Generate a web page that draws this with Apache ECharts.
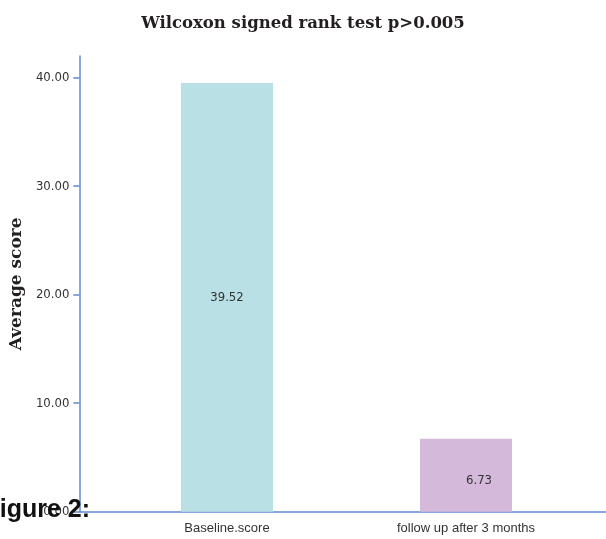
<!DOCTYPE html>
<html>
<head>
<meta charset="utf-8">
<script src="https://cdn.jsdelivr.net/npm/echarts@6/dist/echarts.min.js"></script>
<style>
  html, body { margin: 0; padding: 0; background: #fff; }
  #chart { width: 606px; height: 539px; }
</style>
</head>
<body>
<div id="chart"></div>
<script>
// data
var categories = ['Baseline.score', 'follow up after 3 months'];
var scores = [39.52, 6.73];
var barColors = ['#b9e1e5', '#d4b9da'];
var yTicks = [0, 10, 20, 30, 40];

var axisBlue = '#5f8bcd';
var yMax = 42;
var narrowFont = '"DejaVu Sans Condensed", "Liberation Sans", sans-serif';
var serifFont = '"DejaVu Serif", serif';

var chart = echarts.init(document.getElementById('chart'));

var option = {
    animation: false,
    title: {
        text: 'Wilcoxon signed rank test p>0.005',
        left: 'center',
        top: 10,
        textStyle: {
            fontFamily: serifFont,
            fontWeight: 'bold',
            fontSize: 16.5,
            color: '#231f20'
        }
    },
    // grid 0 holds the bars, grid 1 draws the visible axis lines
    grid: [
        { left: 107.5, right: 20.5, top: 56, bottom: 27.3 },
        { left: 79, right: 0, top: 56, bottom: 27.3 }
    ],
    xAxis: [{
        gridIndex: 0,
        type: 'category',
        data: categories,
        axisLine: { show: false },
        axisTick: { show: false },
        axisLabel: {
            margin: 10,
            fontFamily: 'Liberation Sans',
            fontSize: 13,
            color: '#333'
        }
    }, {
        gridIndex: 1,
        type: 'value',
        min: 0,
        max: 1,
        axisLine: { show: true, lineStyle: { color: axisBlue, width: 1.5 } },
        axisTick: { show: false },
        axisLabel: { show: false },
        splitLine: { show: false }
    }],
    yAxis: [{
        gridIndex: 0,
        type: 'value',
        min: 0,
        max: yMax,
        show: false
    }, {
        gridIndex: 1,
        type: 'value',
        min: 0,
        max: yMax,
        name: 'Average score',
        nameLocation: 'middle',
        nameGap: 53,
        nameTextStyle: {
            fontFamily: serifFont,
            fontWeight: 'bold',
            fontSize: 17,
            color: '#231f20'
        },
        axisLine: { show: true, lineStyle: { color: axisBlue, width: 1.5 } },
        axisTick: {
            show: true,
            length: 6,
            customValues: yTicks,
            lineStyle: { color: axisBlue, width: 1.5 }
        },
        axisLabel: {
            customValues: yTicks,
            margin: 10,
            fontFamily: narrowFont,
            fontSize: 13,
            color: '#333',
            formatter: function (v) { return v.toFixed(2); }
        },
        splitLine: { show: false }
    }],
    series: [{
        type: 'bar',
        xAxisIndex: 0,
        yAxisIndex: 0,
        barWidth: 92,
        data: scores.map(function (v, i) {
            return {
                value: v,
                itemStyle: { color: barColors[i] },
                label: i === 1 ? { offset: [13, 5] } : {}
            };
        }),
        label: {
            show: true,
            position: 'inside',
            fontFamily: narrowFont,
            fontSize: 13,
            color: '#333',
            formatter: function (p) { return p.value.toFixed(2); }
        }
    }],
    graphic: [{
        type: 'text',
        left: -15.5,
        top: 498,
        z: 100,
        style: {
            text: 'Figure 2:',
            fontFamily: 'Liberation Sans',
            fontWeight: 'bold',
            fontSize: 25,
            fill: '#111'
        }
    }]
};

chart.setOption(option);
</script>
</body>
</html>
